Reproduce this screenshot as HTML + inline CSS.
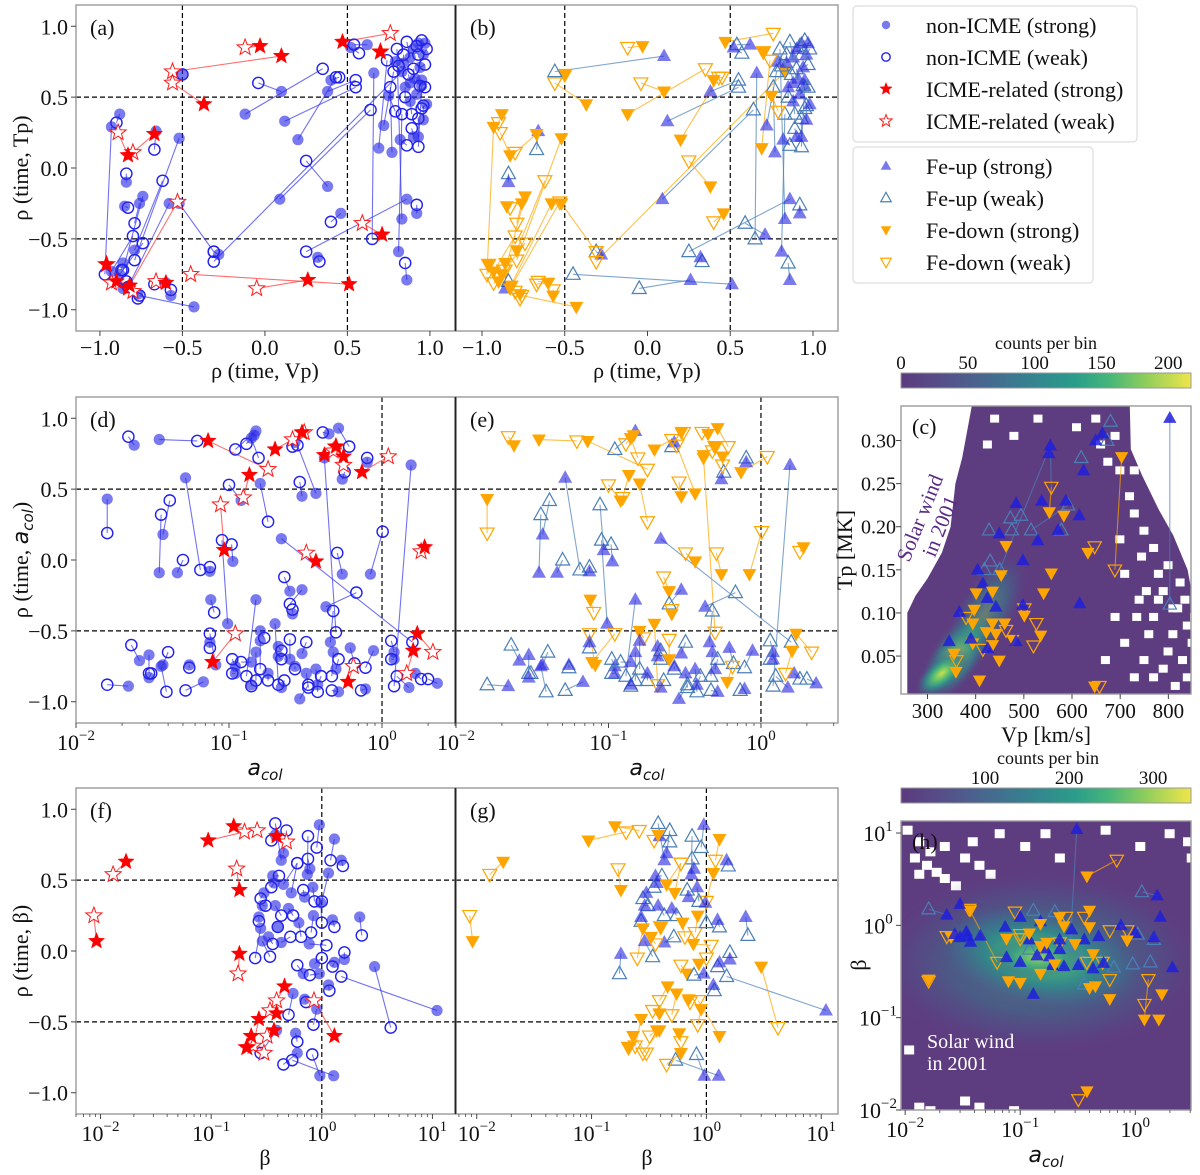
<!DOCTYPE html>
<html><head><meta charset="utf-8">
<style>
html,body{margin:0;padding:0;background:#fff;}
svg{display:block;font-family:"Liberation Serif",serif;}
</style></head>
<body>
<svg id="fig" width="1200" height="1175" viewBox="0 0 1200 1175" xmlns="http://www.w3.org/2000/svg">
<defs>
<linearGradient id="vir" x1="0" x2="1" y1="0" y2="0">
<stop offset="0" stop-color="#5c3a7e"/><stop offset="0.15" stop-color="#55508a"/><stop offset="0.3" stop-color="#46698f"/>
<stop offset="0.45" stop-color="#34838f"/><stop offset="0.6" stop-color="#2a9d8a"/><stop offset="0.72" stop-color="#46b67a"/>
<stop offset="0.84" stop-color="#8ccd5c"/><stop offset="1" stop-color="#f0e54a"/></linearGradient>
<radialGradient id="hotc" cx="0.5" cy="0.5" r="0.5">
<stop offset="0" stop-color="#c9e04c"/><stop offset="0.3" stop-color="#5cc070"/><stop offset="0.6" stop-color="#2f8f8c" stop-opacity="0.8"/><stop offset="1" stop-color="#5e3c80" stop-opacity="0"/></radialGradient>
<radialGradient id="hoth" cx="0.5" cy="0.5" r="0.5">
<stop offset="0" stop-color="#7ccc66"/><stop offset="0.25" stop-color="#3fae7f"/><stop offset="0.5" stop-color="#2e8a8c"/><stop offset="0.75" stop-color="#436690" stop-opacity="0.6"/><stop offset="1" stop-color="#5e3c80" stop-opacity="0"/></radialGradient>
<clipPath id="clipC"><rect x="901" y="406" width="290" height="288"/></clipPath>
<clipPath id="clipH"><rect x="901" y="821" width="290" height="289"/></clipPath>
</defs>
</svg>
<script>
// ---------------- DATA ----------------
const row1Events = [
[0.10,0.54,-0.04,0.60,0,0],[-0.12,0.38,0.35,0.70,0,0],[0.12,0.33,0.55,0.57,0,1],[0.20,0.20,0.43,0.64,0,0],
[0.40,0.62,0.45,0.64,0,0],[0.38,0.54,0.55,0.62,0,1],[0.09,-0.22,0.64,0.41,0,1],[-0.28,-0.61,-0.31,-0.59,0,1],
[0.83,0.68,-0.31,-0.66,0,0],[0.38,-0.13,0.25,0.05,0,0],[0.46,-0.32,0.40,-0.38,0,0],[0.86,-0.22,0.25,-0.59,0,1],
[0.32,-0.63,0.33,-0.66,0,1],[0.66,0.67,0.65,-0.50,0,1],[0.86,-0.79,0.85,-0.67,0,1],[0.81,-0.59,0.83,0.38,0,1],
[0.92,-0.32,0.92,-0.26,0,1],[0.95,0.58,0.93,0.15,0,1],[0.83,-0.36,0.80,0.84,0,1],[0.62,0.87,0.54,0.87,0,1],
[0.52,0.85,0.57,0.81,0,1],[0.69,0.14,0.74,0.76,0,0],[0.77,0.11,0.76,0.57,0,1],[0.72,0.30,0.78,0.68,0,1],
[0.75,0.51,0.79,0.40,0,0],[0.82,0.20,0.86,0.16,0,1],[0.85,0.57,0.85,0.50,0,1],[0.90,0.22,0.89,0.28,0,1],
[0.93,0.22,0.93,0.35,0,1],[0.96,0.34,0.96,0.44,0,1],[0.98,0.45,0.95,0.42,0,1],[0.88,0.47,0.89,0.38,0,1],
[0.91,0.63,0.90,0.70,0,1],[0.94,0.71,0.97,0.73,0,1],[0.96,0.80,0.98,0.84,0,1],[0.93,0.88,0.95,0.90,0,1],
[0.97,0.88,0.92,0.86,0,1],[0.88,0.78,0.86,0.89,0,1],[0.84,0.74,0.84,0.80,0,1],[0.79,0.75,0.81,0.72,0,1],
[0.90,0.84,0.93,0.80,0,1],[0.95,0.62,0.94,0.58,0,1],[0.92,0.52,0.97,0.57,0,1],[0.88,0.60,0.87,0.66,0,1],
[-0.88,0.38,-0.90,0.32,0,0],[-0.93,0.29,-0.97,-0.75,0,0],[-0.66,0.26,-0.67,0.13,0,1],[-0.52,0.21,-0.79,-0.65,0,0],
[-0.84,-0.10,-0.84,-0.04,0,1],[-0.85,-0.27,-0.83,-0.28,0,0],[-0.74,-0.20,-0.86,-0.72,0,0],[-0.76,-0.25,-0.79,-0.39,0,0],
[-0.79,-0.58,-0.62,-0.09,0,0],[-0.58,-0.25,-0.83,-0.84,0,0],[-0.52,-0.25,-0.31,-0.59,0,0],[-0.86,-0.67,-0.87,-0.72,0,0],
[-0.88,-0.75,-0.74,-0.53,0,0],[-0.93,-0.73,-0.80,-0.48,0,0],[-0.86,-0.85,-0.84,-0.80,0,1],[-0.77,-0.89,-0.77,-0.92,0,0],
[-0.60,-0.81,-0.67,-0.82,0,0],[-0.57,-0.90,-0.57,-0.86,0,0],[-0.43,-0.98,-0.76,-0.90,0,0],[-0.50,0.66,-0.50,0.66,0,0],
[0.10,0.79,-0.56,0.68,1,1],[-0.03,0.86,-0.12,0.85,1,0],[-0.37,0.45,-0.56,0.60,1,0],[0.47,0.89,0.76,0.95,1,0],
[0.70,0.82,0.70,0.82,1,0],[-0.67,0.24,-0.80,0.11,1,0],[-0.83,0.09,-0.89,0.25,1,0],[-0.96,-0.68,-0.96,-0.68,1,0],
[-0.90,-0.80,-0.93,-0.81,1,0],[-0.83,-0.85,-0.53,-0.24,1,0],[-0.82,-0.83,-0.80,-0.87,1,0],[-0.60,-0.81,-0.66,-0.80,1,0],
[0.26,-0.79,-0.05,-0.85,1,1],[0.51,-0.82,-0.45,-0.75,1,1],[0.71,-0.47,0.59,-0.39,1,1]
];
const row2Events = [
[0.024,0.81,0.022,0.87,0,0],[0.035,0.85,0.062,0.84,0,0],[0.016,0.43,0.016,0.19,0,0],[0.052,0.58,0.065,-0.07,0,1],
[0.035,-0.09,0.036,0.32,0,1],[0.037,0.18,0.041,0.42,0,1],[0.046,-0.09,0.05,0.0,0,1],[0.075,-0.08,0.075,-0.05,0,1],
[0.076,-0.28,0.08,-0.37,0,0],[0.098,-0.45,0.09,0.14,0,1],[0.106,-0.01,0.104,0.11,0,1],[0.12,0.42,0.10,0.53,0,0],
[0.16,0.54,0.18,0.27,0,0],[0.15,0.91,0.11,0.78,0,1],[0.146,0.88,0.13,0.82,0,0],[0.14,0.86,0.156,0.72,0,0],
[0.22,0.15,1.58,-0.58,0,1],[0.27,0.83,0.26,0.80,0,1],[0.30,0.45,0.29,0.55,0,0],[0.37,0.47,0.28,0.81,0,0],
[0.45,0.89,0.41,0.90,0,0],[0.52,0.93,0.61,0.80,0,0],[0.55,0.57,0.57,0.62,0,1],[0.55,-0.10,0.51,0.05,0,0],
[0.84,-0.10,1.01,0.20,0,0],[0.8,0.69,0.8,0.72,0,1],[1.55,0.67,1.2,-0.89,0,1],[0.42,0.72,0.5,-0.51,0,0],
[0.43,-0.33,0.68,-0.23,0,1],[0.25,-0.22,0.23,-0.12,0,0],[0.3,-0.21,0.25,-0.31,0,1],[0.26,-0.38,0.26,-0.35,0,0],
[0.022,-0.89,0.016,-0.88,0,1],[0.026,-0.71,0.023,-0.60,0,1],[0.03,-0.67,0.03,-0.80,0,1],[0.03,-0.83,0.031,-0.80,0,1],
[0.037,-0.74,0.04,-0.65,0,1],[0.036,-0.75,0.039,-0.93,0,1],[0.055,-0.74,0.055,-0.76,0,1],[0.068,-0.86,0.052,-0.92,0,1],
[0.082,-0.74,0.075,-0.52,0,0],[0.075,-0.58,0.075,-0.62,0,1],[0.11,-0.75,0.105,-0.70,0,1],[0.11,-0.80,0.105,-0.80,0,1],
[0.14,-0.72,0.12,-0.72,0,1],[0.15,-0.28,0.13,-0.82,0,1],[0.16,-0.50,0.17,-0.55,0,0],[0.16,-0.57,0.16,-0.77,0,1],
[0.15,-0.65,0.15,-0.85,0,1],[0.14,-0.88,0.14,-0.89,0,1],[0.18,-0.80,0.18,-0.85,0,1],[0.2,-0.45,0.21,-0.88,0,0],
[0.21,-0.61,0.22,-0.64,0,1],[0.21,-0.68,0.22,-0.70,0,1],[0.22,-0.90,0.23,-0.85,0,1],[0.25,-0.70,0.25,-0.56,0,0],
[0.27,-0.75,0.27,-0.77,0,1],[0.30,-0.66,0.32,-0.58,0,1],[0.29,-0.98,0.33,-0.88,0,1],[0.32,-0.80,0.33,-0.90,0,1],
[0.37,-0.77,0.38,-0.93,0,1],[0.38,-0.88,0.40,-0.82,0,1],[0.46,-0.58,0.48,-0.36,0,1],[0.48,-0.65,0.47,-0.82,0,1],
[0.50,-0.77,0.52,-0.70,0,1],[0.52,-0.93,0.47,-0.92,0,1],[0.62,-0.62,0.66,-0.73,0,1],[0.88,-0.64,0.78,-0.76,0,1],
[1.2,-0.65,1.15,-0.57,0,1],[1.2,-0.70,1.15,-0.70,0,1],[1.5,-0.90,1.25,-0.82,0,1],[1.65,-0.80,1.8,-0.84,0,1],
[2.3,-0.87,2.0,-0.84,0,1],[0.78,-0.91,0.73,-0.92,0,1],
[0.073,0.84,0.18,0.64,1,0],[0.136,0.60,0.124,0.44,1,0],[0.2,0.78,0.26,0.85,1,0],[0.30,0.90,0.31,0.90,1,0],
[0.42,0.74,0.5,0.80,1,0],[0.5,0.80,0.48,0.77,1,0],[0.56,0.73,0.56,0.67,1,0],[0.74,0.62,1.1,0.73,1,0],
[0.093,0.07,0.088,0.39,1,1],[0.37,-0.01,0.32,0.05,1,0],[1.9,0.09,1.8,0.06,1,0],[1.7,-0.52,2.15,-0.65,1,0],
[1.6,-0.64,1.45,-0.80,1,0],[0.6,-0.86,0.65,-0.75,1,0],[0.078,-0.72,0.11,-0.52,1,0]
];
const row3Events = [
[0.0092,0.07,0.0087,0.25,1,0],[0.017,0.63,0.013,0.54,1,0],[0.094,0.78,0.2,0.84,1,0],[0.16,0.88,0.26,0.85,1,0],
[0.18,0.43,0.17,0.58,1,0],[0.18,-0.02,0.175,-0.16,1,1],[0.39,0.81,0.48,0.77,1,1],[0.46,-0.25,0.39,-0.35,1,0],
[0.39,-0.44,0.34,-0.42,1,0],[0.37,-0.56,0.32,-0.60,1,0],[0.27,-0.48,0.24,-0.67,1,0],[0.23,-0.60,0.30,-0.72,1,0],
[0.21,-0.68,0.21,-0.68,1,0],[1.3,-0.60,0.85,-0.35,1,0],
[0.95,0.89,0.9,0.73,0,1],[1.3,0.79,1.2,0.64,0,0],[1.5,0.64,1.55,0.60,0,1],[1.15,0.55,1.0,0.35,0,0],
[0.43,0.64,0.38,0.90,0,1],[0.45,0.69,0.48,0.85,0,1],[0.38,0.82,0.35,0.78,0,0],[0.74,0.54,0.75,0.81,0,1],
[0.78,0.58,0.75,0.65,0,1],[0.53,0.41,0.6,0.62,0,0],[0.36,0.53,0.41,0.53,0,1],[0.37,0.48,0.35,0.45,0,1],
[0.45,0.47,0.6,0.62,0,0],[0.30,0.41,0.28,0.37,0,1],[0.29,0.32,0.31,0.32,0,1],[0.27,0.24,0.27,0.21,0,1],
[0.28,0.16,0.25,-0.05,0,0],[0.29,0.07,0.34,-0.04,0,1],[0.38,0.32,0.43,0.25,0,1],[0.40,0.17,0.40,0.17,0,0],
[0.43,0.06,0.52,0.10,0,1],[0.83,0.45,0.86,0.35,0,1],[0.84,0.25,0.8,0.13,0,0],[0.98,0.34,1.0,0.20,0,1],
[1.25,0.22,1.3,0.17,0,1],[2.2,0.24,2.3,0.11,0,1],[0.77,0.05,1.1,0.04,0,0],[1.6,-0.06,1.6,-0.01,0,1],
[1.3,-0.08,1.25,-0.11,0,1],[0.68,-0.16,0.6,-0.10,0,0],[0.95,-0.16,0.78,-0.17,0,1],[0.86,-0.09,1.0,-0.05,0,0],
[11,-0.42,1.5,-0.18,0,1],[1.15,-0.24,1.17,-0.28,0,1],[0.7,-0.34,0.72,-0.36,0,0],[0.9,-0.41,0.84,-0.52,0,0],
[0.58,-0.58,0.6,-0.64,0,0],[0.96,-0.88,0.82,-0.73,0,1],[1.28,-0.88,0.54,-0.77,0,1],[0.39,-0.56,0.28,-0.72,0,0],
[0.5,0.30,0.55,0.25,0,1],[0.62,0.20,0.65,0.10,0,0],[0.7,0.38,0.68,0.43,0,1],[0.33,0.10,0.36,0.05,0,0],
[0.55,-0.30,0.5,-0.45,0,0],[0.6,-0.72,0.45,-0.80,0,0],[3.0,-0.11,4.2,-0.54,0,0]
];
const cPoints = [
[803,0.326,0],[803,0.11,1],[703,0.281,2],[689,0.15,3],[680,0.322,1],[663,0.308,0],[649,0.30,0],[673,0.30,1],
[619,0.28,1],[624,0.265,0],[555,0.294,0],[552,0.285,0],[557,0.246,3],[553,0.217,2],[537,0.23,0],[583,0.213,2],
[587,0.23,0],[592,0.225,1],[615,0.213,0],[494,0.213,1],[484,0.227,0],[472,0.21,1],[449,0.192,0],[428,0.196,1],
[463,0.178,2],[475,0.196,1],[498,0.161,0],[529,0.184,0],[515,0.196,1],[404,0.15,0],[418,0.15,1],[415,0.134,0],
[453,0.144,2],[435,0.125,2],[401,0.123,2],[557,0.146,2],[541,0.123,2],[501,0.105,3],[501,0.097,2],[633,0.17,2],
[647,0.177,3],[616,0.111,0],[397,0.104,2],[394,0.088,2],[435,0.088,2],[460,0.088,2],[463,0.080,3],[422,0.078,2],
[442,0.076,2],[477,0.069,2],[526,0.088,3],[535,0.074,2],[394,0.065,2],[359,0.032,2],[355,0.053,2],[408,0.022,2],
[449,0.045,2],[435,0.063,2],[345,0.067,0],[366,0.101,0],[390,0.07,0],[424,0.117,0],[442,0.107,0],[498,0.109,0],
[484,0.067,0],[425,0.059,0],[647,0.015,2],[657,0.015,3],[578,0.196,1],[571,0.196,0],[450,0.150,1],[430,0.160,1],
[380,0.095,3],[415,0.058,3],[520,0.062,3],[360,0.045,3]
];
const hPoints = [
[0.31,11,0],[0.38,3.4,2],[0.69,5.1,3],[1.14,2.3,1],[1.55,2.1,0],[0.016,1.5,1],[0.023,1.3,0],[0.03,1.7,0],
[0.037,1.46,2],[0.036,1.5,3],[0.063,0.4,3],[0.025,0.75,2],[0.023,0.76,3],[0.027,0.8,0],[0.03,0.74,0],[0.035,0.76,0],
[0.037,0.66,0],[0.034,0.85,0],[0.045,0.77,0],[0.074,0.96,0],[0.1,1.23,0],[0.076,0.45,0],[0.1,0.4,0],[0.12,0.7,0],
[0.14,0.47,0],[0.15,1.1,0],[0.165,0.56,0],[0.18,0.46,0],[0.22,0.7,0],[0.22,0.55,0],[0.28,0.9,0],[0.36,0.7,0],
[0.19,0.37,0],[0.24,0.36,0],[0.32,0.37,0],[0.43,0.34,0],[0.48,0.76,0],[0.53,0.39,0],[0.75,1.0,0],[1.45,0.74,0],
[1.65,1.23,0],[2.1,0.35,0],[1.0,0.82,0],[0.13,0.18,0],[0.12,0.55,1],[0.13,1.45,1],[0.2,1.4,1],[0.26,0.6,1],
[0.33,0.42,1],[0.36,0.23,1],[1.05,0.8,1],[1.45,0.7,1],[0.5,0.4,1],[0.65,0.35,1],[0.95,0.38,1],[1.35,0.4,1],
[0.076,0.72,2],[0.079,0.25,2],[0.12,0.82,2],[0.15,1.04,2],[0.15,0.6,2],[0.17,0.65,2],[0.2,0.38,2],[0.22,1.23,2],
[0.24,0.98,2],[0.3,0.63,2],[0.4,0.96,2],[0.4,0.21,2],[0.45,0.22,2],[0.6,0.16,2],[0.85,0.69,2],[0.43,0.49,2],
[0.4,1.45,2],[1.7,0.18,2],[1.2,0.096,2],[1.6,0.096,2],[0.016,0.26,2],[0.38,0.016,2],[0.15,0.3,2],[0.1,0.24,2],
[0.09,1.4,3],[0.1,0.8,3],[0.25,1.23,3],[0.36,1.23,3],[0.6,0.88,3],[0.85,0.88,3],[1.3,0.26,3],[1.2,0.14,3],
[0.32,0.013,3],[0.016,0.25,3],[0.6,0.26,3],[0.1,0.72,3],[0.22,0.65,3],[0.38,0.4,3],[0.52,0.4,3]
];
const cLinks = [[803,0.326,803,0.11,1],[703,0.281,689,0.15,0],[555,0.294,557,0.246,1],[557,0.246,553,0.217,0],[450,0.150,555,0.294,1],[515,0.196,592,0.225,1]];
const hLinks = [[0.31,11,0.27,0.53,1],[0.38,3.4,0.69,5.1,0],[1.14,2.3,1.55,2.1,1],[0.036,1.5,0.063,0.4,0],[0.016,1.5,0.023,1.3,1],[1.3,0.26,1.2,0.096,0],[1.7,0.18,1.65,0.17,0]];
const linTicks = [-1.0,-0.5,0.0,0.5,1.0];
const cXTicks = [300,400,500,600,700,800];
const cYTicks = [0.05,0.10,0.15,0.20,0.25,0.30];
const cbarCTicks = [0,50,100,150,200];
const cbarHTicks = [100,200,300];

// ---------------- DRAWING ----------------
const NS = "http://www.w3.org/2000/svg";
const svg = document.getElementById('fig');
function mk(tag, parent){ const e = document.createElementNS(NS, tag); (parent||svg).appendChild(e); return e; }
function setA(e, o){ for (const k in o) e.setAttribute(k, o[k]); return e; }
function scale(min, max, p0, p1, log){
  if (log){ const a=Math.log10(min), b=Math.log10(max); return v => p0 + (Math.log10(v)-a)/(b-a)*(p1-p0); }
  return v => p0 + (v-min)/(max-min)*(p1-p0);
}
function fmt(v){ return (v<0?'\u2212':'') + Math.abs(v).toFixed(1); }
function text(str, x, y, size, anchor, parent){
  const t = mk('text', parent); setA(t,{x:x,y:y,'font-size':size,'text-anchor':anchor||'middle',fill:'#111'}); t.textContent = str; return t;
}
function powText(exp, x, y, parent){
  const t = mk('text', parent); setA(t,{x:x,y:y,'font-size':22,'text-anchor':'middle',fill:'#111'});
  const a = mk('tspan', t); a.textContent = '10';
  const b = mk('tspan', t); setA(b,{'font-size':15,dy:-10}); b.textContent = (exp<0?'\u2212':'') + Math.abs(exp);
  return t;
}
function frame(x0,y0,x1,y1,name){
  const r = mk('rect'); setA(r,{x:x0,y:y0,width:x1-x0,height:y1-y0,fill:'none',stroke:'#999','stroke-width':1.4});
  
  
}
function dash(x1,y1,x2,y2,parent){ const l = mk('line',parent); setA(l,{x1:x1,y1:y1,x2:x2,y2:y2,stroke:'#000','stroke-width':1.2,'stroke-dasharray':'5,3'});
  
   }
function tickX(x,y){ const l=mk('line'); setA(l,{x1:x,y1:y,x2:x,y2:y+5,stroke:'#444','stroke-width':1}); }
function tickXm(x,y){ const l=mk('line'); setA(l,{x1:x,y1:y,x2:x,y2:y+3,stroke:'#444','stroke-width':0.8}); }
function tickY(x,y){ const l=mk('line'); setA(l,{x1:x-5,y1:y,x2:x,y2:y,stroke:'#444','stroke-width':1}); }

const ST = {
  circS:{fill:'rgba(40,40,230,0.62)',stroke:'none'},
  circW:{fill:'none',stroke:'#2020f0','stroke-width':1.4},
  starS:{fill:'#ff0000',stroke:'#ff0000','stroke-width':0.5},
  starW:{fill:'#fff',stroke:'#ff1a1a','stroke-width':1},
  upS:{fill:'rgba(40,40,225,0.62)',stroke:'none'},
  upW:{fill:'none',stroke:'#4a7fb8','stroke-width':1.2},
  dnS:{fill:'#ffa500',stroke:'none'},
  dnW:{fill:'none',stroke:'#ffa500','stroke-width':1.2}
};
function marker(kind, x, y, g, s){
  s = s||1; let e;
  if (kind==='circS'||kind==='circW'){ e = mk('circle',g); setA(e,{cx:x,cy:y,r:5.6*s}); }
  else if (kind==='starS'||kind==='starW'){
    const R=8.5*s, r=3.6*s; let p=[];
    for(let i=0;i<10;i++){ const a=-Math.PI/2+i*Math.PI/5, rr=i%2?r:R; p.push((x+rr*Math.cos(a)).toFixed(1)+','+(y+rr*Math.sin(a)).toFixed(1)); }
    e = mk('polygon',g); setA(e,{points:p.join(' ')});
  } else if (kind==='upS'||kind==='upW'){
    e = mk('polygon',g); setA(e,{points:`${x},${y-7.5*s} ${x+7*s},${y+5*s} ${x-7*s},${y+5*s}`});
  } else {
    e = mk('polygon',g); setA(e,{points:`${x},${y+7.5*s} ${x+7*s},${y-5*s} ${x-7*s},${y-5*s}`});
  }
  setA(e, ST[kind]);
  
  
  return e;
}
function link(x1,y1,x2,y2,color,g){ const l=mk('line',g); setA(l,{x1:x1,y1:y1,x2:x2,y2:y2,stroke:color,'stroke-width':1.1,'stroke-opacity':0.7});
  
   }

function panelPair(events, L, R, yTop, yBot, xl, xr, yScale, xlogs, xrefs, yrefs, letters){
  const Y = yScale, XL = xl, XR = xr;
  const gL = mk('g');  
  const gR = mk('g');  
  yrefs.forEach(v=>{ dash(L[0],Y(v),L[1],Y(v),gL); dash(R[0],Y(v),R[1],Y(v),gR); });
  xrefs.forEach(v=>{ dash(XL(v),yTop,XL(v),yBot,gL); dash(XR(v),yTop,XR(v),yBot,gR); });
  const lineL = mk('g',gL), markL = mk('g',gL), lineR = mk('g',gR), markR = mk('g',gR);
  const order = events.slice().sort((a,b)=>a[4]-b[4]);
  order.forEach(e=>{
    link(XL(e[0]),Y(e[1]),XL(e[2]),Y(e[3]), e[4]?'#ff3030':'#3535f0', lineL);
    marker(e[4]?'starW':'circW', XL(e[2]),Y(e[3]), markL);
    marker(e[4]?'starS':'circS', XL(e[0]),Y(e[1]), markL);
  });
  events.forEach(e=>{
    link(XR(e[0]),Y(e[1]),XR(e[2]),Y(e[3]), e[5]?'#4a7fb8':'#ffa500', lineR);
    marker(e[5]?'upW':'dnW', XR(e[2]),Y(e[3]), markR);
    marker(e[5]?'upS':'dnS', XR(e[0]),Y(e[1]), markR);
  });
  frame(L[0],yTop,L[1],yBot,'axes-'+letters[0]);
  frame(R[0],yTop,R[1],yBot,'axes-'+letters[1]);
  const d = mk('line'); setA(d,{x1:L[1]+0.5,y1:yTop,x2:L[1]+0.5,y2:yBot,stroke:'#222','stroke-width':1.6});
  text('('+letters[0]+')', L[0]+14, yTop+30, 22, 'start');
  text('('+letters[1]+')', R[0]+14, yTop+30, 22, 'start');
  linTicks.forEach(v=>{ tickY(L[0],Y(v)); text(fmt(v), L[0]-8, Y(v)+8, 22, 'end'); });
}

// Row 1
const yR1 = scale(-1.15,1.15,331,5,false);
const xA = scale(-1.145,1.152,76,455,false);
const xB = scale(-1.157,1.151,456,838,false);
panelPair(row1Events,[76,455],[456,838],5,331,xA,xB,yR1,false,[-0.5,0.5],[-0.5,0.5],['a','b']);
linTicks.forEach(v=>{ tickX(xA(v),331); text(fmt(v),xA(v),355,22); tickX(xB(v),331); text(fmt(v),xB(v),355,22); });
text('\u03c1 (time, Vp)', 265, 378, 22); text('\u03c1 (time, Vp)', 647, 378, 22);

// Row 2
const yR2 = scale(-1.15,1.15,723,397,false);
const xD = scale(0.01,3,76,455,true);
const xE = scale(0.01,3.2,456,838,true);
panelPair(row2Events,[76,455],[456,838],397,723,xD,xE,yR2,true,[1],[-0.5,0.5],['d','e']);
function logTicks(X, lo, hi, y, exps, labelY){
  for (let e=-3;e<=2;e++){ for(let m=1;m<10;m++){ const v=m*Math.pow(10,e); if(v<lo||v>hi) continue;
    if(m===1){ tickX(X(v),y); } else tickXm(X(v),y); } }
  exps.forEach(e=>{ powText(e, X(Math.pow(10,e)), labelY); });
}
logTicks(xD,0.01,3,723,[-2,-1,0],750);
logTicks(xE,0.01,3.2,723,[-2,-1,0],750);
function acolLabel(x,y){ const t=mk('text'); setA(t,{x:x,y:y,'text-anchor':'middle','font-family':'"DejaVu Sans",sans-serif','font-size':22,'font-style':'italic',fill:'#111'});
  const a=mk('tspan',t); a.textContent='a'; const b=mk('tspan',t); setA(b,{'font-size':15,dy:5}); b.textContent='col';
    }
acolLabel(265,775); acolLabel(647,775);

// Row 3
const yR3 = scale(-1.15,1.15,1114,788,false);
const xF = scale(0.006,16,76,455,true);
const xG = scale(0.0066,14,456,838,true);
panelPair(row3Events,[76,455],[456,838],788,1114,xF,xG,yR3,true,[1],[-0.5,0.5],['f','g']);
logTicks(xF,0.006,16,1114,[-2,-1,0,1],1141);
logTicks(xG,0.0066,14,1114,[-2,-1,0,1],1141);
text('\u03b2', 265, 1165, 22); text('\u03b2', 647, 1165, 22);

function yTitle(str, x, y, sub){
  const t = mk('text'); setA(t,{x:x,y:y,'font-size':22,'text-anchor':'middle',fill:'#111',transform:`rotate(-90 ${x} ${y})`});
  if (sub){ const a=mk('tspan',t); a.textContent='\u03c1 (time, ';
    const b=mk('tspan',t); setA(b,{'font-family':'"DejaVu Sans",sans-serif','font-style':'italic'}); b.textContent='a';
    const c=mk('tspan',t); setA(c,{'font-family':'"DejaVu Sans",sans-serif','font-style':'italic','font-size':15,dy:5}); c.textContent='col';
    const d=mk('tspan',t); setA(d,{dy:-5}); d.textContent=')'; }
  else t.textContent = str;
   
}
yTitle('\u03c1 (time, Tp)', 28, 168);
yTitle('', 28, 560, true);
yTitle('\u03c1 (time, \u03b2)', 28, 951);

// Panel c
const xC = scale(245,847,901,1191,false);
const yC = scale(0.006,0.34,694,406,false);
const gC = mk('g');   gC.setAttribute('clip-path','url(#clipC)');
(function(){
  const poly=[[258,0.006],[258,0.10],[275,0.12],[300,0.14],[330,0.17],[348,0.20],[358,0.25],[372,0.28],[392,0.34],[720,0.34],[722,0.29],[745,0.26],[780,0.22],[810,0.19],[840,0.15],[850,0.12],[850,0.006]];
  const p=mk('polygon',gC); setA(p,{points:poly.map(q=>xC(q[0]).toFixed(1)+','+yC(q[1]).toFixed(1)).join(' '),fill:'#5e3c80'});
   
  const holes=[[650,0.30],[690,0.27],[720,0.22],[740,0.2],[760,0.18],[700,0.15],[730,0.12],[760,0.10],[780,0.13],[800,0.08],[820,0.05],[700,0.07],[740,0.05],[760,0.03],[680,0.10],[790,0.16],[810,0.11],[830,0.09],[640,0.33],[600,0.32],[430,0.33],[415,0.30],[470,0.31],[520,0.33],[660,0.05],[720,0.03],
    [710,0.24],[735,0.17],[770,0.15],[790,0.06],[815,0.14],[840,0.07],[750,0.08],[780,0.04],[805,0.02],[830,0.03],[725,0.10],[770,0.12],[800,0.11],[690,0.19],[720,0.27],[745,0.13],[825,0.12],[845,0.10],[680,0.31],[665,0.28]];
  holes.forEach(h=>{ const r=mk('rect',gC); setA(r,{x:xC(h[0]),y:yC(h[1]),width:9,height:8,fill:'#fff'}); });
  const e1=mk('ellipse',gC); setA(e1,{cx:xC(360),cy:yC(0.05),rx:55,ry:26,fill:'url(#hotc)',transform:`rotate(-55 ${xC(360)} ${yC(0.05)})`,opacity:0.9});
  const e2=mk('ellipse',gC); setA(e2,{cx:xC(330),cy:yC(0.03),rx:34,ry:16,fill:'url(#hotc)',transform:`rotate(-40 ${xC(330)} ${yC(0.03)})`});
  const e3=mk('ellipse',gC); setA(e3,{cx:xC(420),cy:yC(0.10),rx:70,ry:30,fill:'url(#hoth)',opacity:0.45,transform:`rotate(-60 ${xC(420)} ${yC(0.10)})`});
})();
const kinds=['upS','upW','dnS','dnW'];
cLinks.forEach(l=>link(xC(l[0]),yC(l[1]),xC(l[2]),yC(l[3]), l[4]?'#4a7fb8':'#ffa500', gC));
cPoints.filter(p=>p[2]%2===1).forEach(p=>marker(kinds[p[2]], xC(p[0]), yC(p[1]), gC, 0.95));
cPoints.filter(p=>p[2]%2===0).forEach(p=>{ const m=marker(kinds[p[2]], xC(p[0]), yC(p[1]), gC, 0.95); if(p[2]===0) m.setAttribute('fill','rgba(30,30,220,0.85)'); });
frame(901,406,1191,694,'axes-c');
text('(c)', 912, 434, 22, 'start');
cXTicks.forEach(v=>{ tickX(xC(v),694); text(String(v), xC(v), 718, 21); });
cYTicks.forEach(v=>{ tickY(901,yC(v)); text(v.toFixed(2), 896, yC(v)+7, 20, 'end'); });
text('Vp [km/s]', 1046, 742, 22);
yTitle('Tp [MK]', 852, 550);
(function(){ const t=mk('text'); setA(t,{x:0,y:0,'font-size':21,fill:'#5b2a86',transform:'translate(930 522) rotate(-68)','text-anchor':'middle'});
  const a=mk('tspan',t); setA(a,{x:0,dy:-4}); a.textContent='Solar wind'; const b=mk('tspan',t); setA(b,{x:0,dy:22}); b.textContent='in 2001';
    })();
(function(){ const r=mk('rect'); setA(r,{x:901,y:373,width:290,height:15,fill:'url(#vir)',stroke:'#999','stroke-width':1});
   
  const cx = scale(0,217,901,1191,false);
  cbarCTicks.forEach(v=>{ text(String(v), cx(v), 369, 19); });
  text('counts per bin', 1046, 349, 18); })();

// Panel h
const xH = scale(0.0092,3.05,901,1191,true);
const yH = scale(0.01,13.5,1110,821,true);
const gH = mk('g');   gH.setAttribute('clip-path','url(#clipH)');
(function(){
  const bg=mk('rect',gH); setA(bg,{x:901,y:821,width:290,height:289,fill:'#5e3c80'});
   
  const holes=[[0.0095,12],[0.012,9],[0.011,6],[0.014,5],[0.017,4.2],[0.02,3.6],[0.025,3],[0.012,4],[0.015,7],[0.02,8],[0.03,6],[0.04,5],[0.05,4],[0.035,9],[0.06,11],[0.1,8],[0.15,11],[0.2,6],[0.5,12],[1.0,8],[1.8,11],[2.6,9],[2.8,6],[0.012,0.012],[0.015,0.011],[0.03,0.014],[0.04,0.012],[0.08,0.011],[0.0098,0.05]];
  holes.forEach(h=>{ const r=mk('rect',gH); setA(r,{x:xH(h[0]),y:yH(h[1]),width:10,height:9,fill:'#fff'}); });
  const e0=mk('ellipse',gH); setA(e0,{cx:xH(0.15),cy:yH(0.4),rx:170,ry:95,fill:'url(#hoth)',opacity:0.45});
  const e1=mk('ellipse',gH); setA(e1,{cx:xH(0.15),cy:yH(0.45),rx:115,ry:55,fill:'url(#hoth)',opacity:0.85,transform:`rotate(10 ${xH(0.15)} ${yH(0.45)})`});
  const e2=mk('ellipse',gH); setA(e2,{cx:xH(0.14),cy:yH(0.45),rx:45,ry:20,fill:'url(#hotc)',opacity:0.55});
})();
hLinks.forEach(l=>link(xH(l[0]),yH(l[1]),xH(l[2]),yH(l[3]), l[4]?'#4a7fb8':'#ffa500', gH));
hPoints.filter(p=>p[2]%2===1).forEach(p=>marker(kinds[p[2]], xH(p[0]), yH(p[1]), gH, 0.95));
hPoints.filter(p=>p[2]%2===0).forEach(p=>{ const m=marker(kinds[p[2]], xH(p[0]), yH(p[1]), gH, 0.95); if(p[2]===0) m.setAttribute('fill','rgba(30,30,220,0.85)'); });
frame(901,821,1191,1110,'axes-h');
text('(h)', 912, 849, 22, 'start');
(function(){ const t=mk('text'); setA(t,{x:927,y:1048,'font-size':20,fill:'#fff'}); const a=mk('tspan',t); setA(a,{x:927}); a.textContent='Solar wind';
  const b=mk('tspan',t); setA(b,{x:927,dy:22}); b.textContent='in 2001';   })();
logTicks(xH,0.0092,3.05,1110,[-2,-1,0],1137);
[-2,-1,0,1].forEach(e=>{ tickY(901,yH(Math.pow(10,e))); powText(e, 878, yH(Math.pow(10,e))+8); });
acolLabel(1046,1162);
yTitle('\u03b2', 866, 965);
(function(){ const r=mk('rect'); setA(r,{x:901,y:788,width:290,height:15,fill:'url(#vir)',stroke:'#999','stroke-width':1});
   
  const cx = scale(0,345,901,1191,false);
  cbarHTicks.forEach(v=>{ text(String(v), cx(v), 784, 19); });
  text('counts per bin', 1048, 764, 18); })();

// Legends
function legend(x,y,w,h,items,name){
  const g=mk('g');  
  const r=mk('rect',g); setA(r,{x:x,y:y,width:w,height:h,rx:4,fill:'#fff',stroke:'#ddd','stroke-width':1.2});
  items.forEach((it,i)=>{ const cy=y+19+i*32;
    const m=marker(it[0], x+33, cy, g, 0.75);
    const t=mk('text',g); setA(t,{x:x+73,y:cy+8,'font-size':22,fill:'#111'}); t.textContent=it[1];
      });
}
legend(853,6,284,136,[['circS','non-ICME (strong)'],['circW','non-ICME (weak)'],['starS','ICME-related (strong)'],['starW','ICME-related (weak)']],'legend-icme');
legend(853,147,240,136,[['upS','Fe-up (strong)'],['upW','Fe-up (weak)'],['dnS','Fe-down (strong)'],['dnW','Fe-down (weak)']],'legend-fe');
</script>
</body></html>
